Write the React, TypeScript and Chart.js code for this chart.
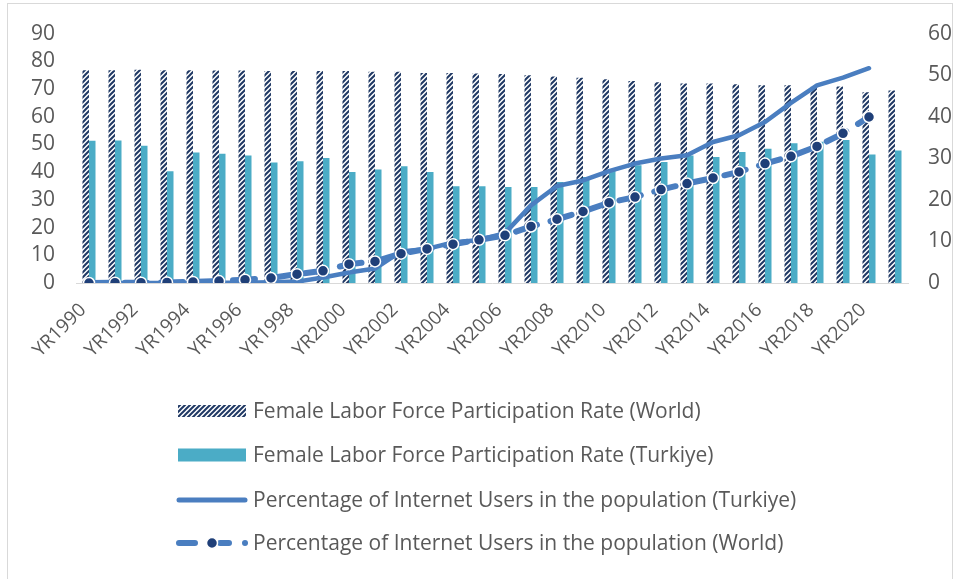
import React, { useEffect, useRef } from 'react';
import { Chart, registerables } from 'chart.js';

Chart.register(...registerables);

const years = [
  'YR1990', 'YR1991', 'YR1992', 'YR1993', 'YR1994', 'YR1995', 'YR1996', 'YR1997',
  'YR1998', 'YR1999', 'YR2000', 'YR2001', 'YR2002', 'YR2003', 'YR2004', 'YR2005',
  'YR2006', 'YR2007', 'YR2008', 'YR2009', 'YR2010', 'YR2011', 'YR2012', 'YR2013',
  'YR2014', 'YR2015', 'YR2016', 'YR2017', 'YR2018', 'YR2019', 'YR2020', 'YR2021',
];

// Female labor force participation (plotted on right axis 0-60)
const worldLfp = [
  51.2, 51.2, 51.3, 51.2, 51.2, 51.1, 51.1, 51.0, 51.0, 51.0, 51.0, 50.8, 50.8, 50.5, 50.5, 50.4,
  50.3, 50.0, 49.7, 49.4, 49.0, 48.6, 48.3, 48.0, 48.0, 47.8, 47.6, 47.6, 47.4, 47.3, 45.9, 46.3,
];
const turkeyLfp = [
  34.2, 34.3, 33.0, 26.9, 31.4, 31.1, 30.7, 29.0, 29.3, 30.1, 26.7, 27.3, 28.1, 26.7, 23.3, 23.3,
  23.1, 23.1, 24.3, 25.5, 27.1, 28.3, 29.1, 30.7, 30.3, 31.5, 32.3, 33.6, 34.0, 34.4, 30.9, 31.9,
];

// Internet users (plotted on left axis 0-90)
const turkeyInternet = [
  0, 0, 0, 0, 0, 0.1, 0.1, 0.3, 0.5, 2.0, 3.8, 5.2, 11.4, 12.3, 14.6, 15.5,
  18.0, 28.0, 35.0, 37.0, 40.4, 43.1, 44.9, 46.1, 50.9, 53.3, 58.1, 65.0, 71.3, 74.1, 77.5, null,
];
const worldInternet = [
  0.0, 0.1, 0.1, 0.2, 0.4, 0.7, 1.2, 1.8, 3.2, 4.4, 6.8, 7.8, 10.6, 12.3, 14.0, 15.6,
  17.2, 20.4, 23.0, 25.8, 29.0, 31.0, 33.7, 35.9, 37.9, 40.1, 43.1, 45.7, 49.3, 54.0, 59.9, null,
];

const leftTicksMax = 90;
const rightTicksMax = 60;

const seriesLabels = [
  'Female Labor Force Participation Rate (World)',
  'Female Labor Force Participation Rate (Turkiye)',
  'Percentage of Internet Users in the population (Turkiye)',
  'Percentage of Internet Users in the population (World)',
];

const NAVY = '#1f3864';
const TEAL = '#4bacc6';
const LINE_BLUE = '#4a7ec0';
const DOT_NAVY = '#1f3f78';
const TEXT = '#595959';
const FONT = '"Open Sans"';

function makeHatch(): CanvasPattern | string {
  const c = document.createElement('canvas');
  c.width = 5;
  c.height = 5;
  const g = c.getContext('2d');
  if (!g) return NAVY;
  g.fillStyle = '#ffffff';
  g.fillRect(0, 0, 5, 5);
  g.strokeStyle = NAVY;
  g.lineWidth = 2;
  g.beginPath();
  g.moveTo(0, 5);
  g.lineTo(5, 0);
  g.moveTo(-1, 1);
  g.lineTo(1, -1);
  g.moveTo(4, 6);
  g.lineTo(6, 4);
  g.stroke();
  return g.createPattern(c, 'repeat') || NAVY;
}

export default function App() {
  const ref = useRef<HTMLCanvasElement>(null);

  useEffect(() => {
    const canvas = ref.current;
    if (!canvas) return;
    const hatch = makeHatch();

    const legendPlugin = {
      id: 'stackedLegend',
      afterDraw(chart: any) {
        const ctx: CanvasRenderingContext2D = chart.ctx;
        const x0 = 178;
        const x1 = 246;
        const tx = 253;
        const rows = [411, 455, 500, 543];
        ctx.save();
        // row 1: hatched box
        ctx.fillStyle = hatch as any;
        ctx.fillRect(x0, rows[0] - 6, x1 - x0, 12);
        // row 2: teal box
        ctx.fillStyle = TEAL;
        ctx.fillRect(x0, rows[1] - 6.5, x1 - x0, 13);
        // row 3: solid line
        ctx.strokeStyle = LINE_BLUE;
        ctx.lineCap = 'round';
        ctx.lineWidth = 5;
        ctx.beginPath();
        ctx.moveTo(x0 + 1, rows[2]);
        ctx.lineTo(x1 - 1, rows[2]);
        ctx.stroke();
        // row 4: dashed line with marker
        ctx.lineWidth = 6;
        ctx.beginPath();
        ctx.moveTo(179, rows[3]);
        ctx.lineTo(195, rows[3]);
        ctx.moveTo(220, rows[3]);
        ctx.lineTo(229, rows[3]);
        ctx.moveTo(245, rows[3]);
        ctx.lineTo(245.01, rows[3]);
        ctx.stroke();
        ctx.beginPath();
        ctx.arc(212, rows[3], 5.5, 0, Math.PI * 2);
        ctx.fillStyle = DOT_NAVY;
        ctx.fill();
        ctx.lineWidth = 1.5;
        ctx.strokeStyle = '#ffffff';
        ctx.stroke();
        // texts
        ctx.fillStyle = TEXT;
        ctx.font = `21px ${FONT}`;
        ctx.textBaseline = 'middle';
        ctx.textAlign = 'left';
        chart.data.datasets.forEach((ds: any, i: number) => {
          ctx.fillText(ds.label, tx, rows[i] + 1);
        });
        ctx.restore();
      },
    };

    const chart = new Chart(canvas, {
      type: 'bar',
      data: {
        labels: years,
        datasets: [
          {
            type: 'bar',
            label: seriesLabels[0],
            data: worldLfp,
            yAxisID: 'y1',
            backgroundColor: hatch as any,
            borderWidth: 0,
            categoryPercentage: 0.5,
            barPercentage: 1.0,
            order: 3,
          },
          {
            type: 'bar',
            label: seriesLabels[1],
            data: turkeyLfp,
            yAxisID: 'y1',
            backgroundColor: TEAL,
            borderWidth: 0,
            categoryPercentage: 0.5,
            barPercentage: 1.0,
            order: 3,
          },
          {
            type: 'line',
            label: seriesLabels[2],
            data: turkeyInternet as any,
            yAxisID: 'y',
            borderColor: LINE_BLUE,
            borderWidth: 4.5,
            pointRadius: 0,
            tension: 0,
            borderJoinStyle: 'round',
            borderCapStyle: 'round',
            fill: false,
            order: 2,
          },
          {
            type: 'line',
            label: seriesLabels[3],
            data: worldInternet as any,
            yAxisID: 'y',
            borderColor: LINE_BLUE,
            borderWidth: 6,
            borderDash: [22, 14],
            borderCapStyle: 'round',
            pointRadius: 5.5,
            pointBackgroundColor: DOT_NAVY,
            pointBorderColor: '#ffffff',
            pointBorderWidth: 1.5,
            tension: 0,
            fill: false,
            order: 1,
          },
        ],
      },
      options: {
        responsive: false,
        animation: false,
        devicePixelRatio: 1,
        layout: { padding: { top: 33, left: 0, right: 0, bottom: 0 } },
        plugins: {
          legend: { display: false },
          tooltip: { enabled: false },
        },
        scales: {
          x: {
            type: 'category',
            offset: true,
            grid: { display: false, drawTicks: false },
            border: { display: true, color: '#d9d9d9', width: 1 },
            ticks: {
              autoSkip: false,
              maxRotation: 45,
              minRotation: 45,
              padding: 16,
              labelOffset: -6,
              color: TEXT,
              font: { family: FONT, size: 19 },
              callback: function (this: any, v: any, i: number) {
                return i % 2 === 0 ? this.getLabelForValue(v) : '';
              },
            },
            afterFit: (s: any) => {
              s.height = 296;
            },
          },
          y: {
            position: 'left',
            min: 0,
            max: leftTicksMax,
            grid: { display: false, drawTicks: false },
            border: { display: false },
            ticks: {
              stepSize: 10,
              autoSkip: false,
              padding: 21,
              color: TEXT,
              font: { family: FONT, size: 21 },
            },
            afterFit: (s: any) => {
              s.width = 76;
            },
          },
          y1: {
            position: 'right',
            min: 0,
            max: rightTicksMax,
            grid: { display: false, drawTicks: false },
            border: { display: false },
            ticks: {
              stepSize: 10,
              autoSkip: false,
              padding: 20,
              color: TEXT,
              font: { family: FONT, size: 21 },
            },
            afterFit: (s: any) => {
              s.width = 48;
            },
          },
        },
      },
      plugins: [legendPlugin],
    });

    return () => {
      chart.destroy();
    };
  }, []);

  return (
    <div
      style={{
        position: 'fixed',
        left: 0,
        top: 0,
        width: 956,
        height: 579,
        overflow: 'hidden',
        background: '#ffffff',
      }}
    >
      <div
        style={{
          position: 'absolute',
          left: 7,
          top: 3,
          width: 946,
          height: 620,
          border: '1px solid #d9d9d9',
          boxSizing: 'border-box',
        }}
      />
      <canvas
        ref={ref}
        width={956}
        height={579}
        style={{ position: 'absolute', left: 0, top: 0, width: 956, height: 579 }}
      />
    </div>
  );
}
